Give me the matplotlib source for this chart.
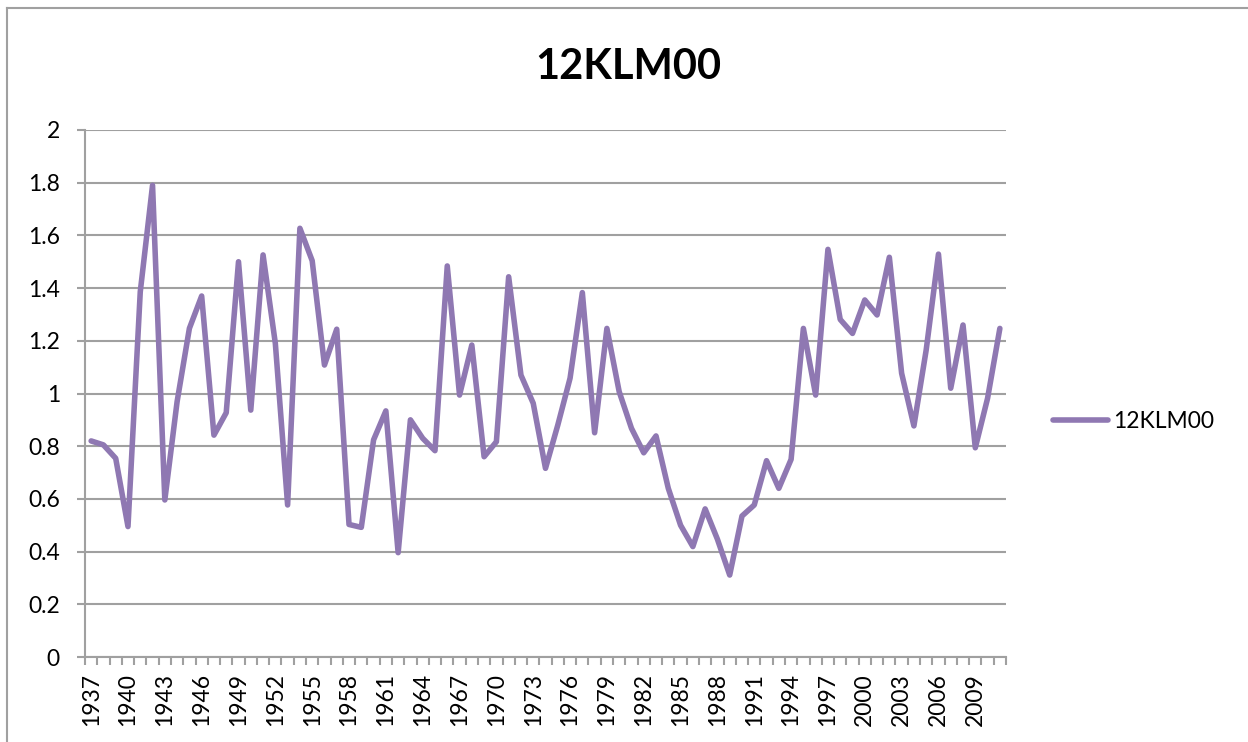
import numpy as np
import matplotlib
matplotlib.use("Agg")
import matplotlib.pyplot as plt
from matplotlib.lines import Line2D

plt.rcParams['font.family'] = ['Lato', 'DejaVu Sans']

years = list(range(1937, 2012))
values = [
    0.82, 0.805, 0.754, 0.495, 1.386, 1.79, 0.596, 0.969, 1.247, 1.37,
    0.842, 0.927, 1.50, 0.937, 1.526, 1.19, 0.577, 1.627, 1.504, 1.108,
    1.244, 0.503, 0.492, 0.824, 0.934, 0.396, 0.90, 0.83, 0.783, 1.484,
    0.994, 1.184, 0.76, 0.817, 1.443, 1.07, 0.963, 0.716, 0.88, 1.058,
    1.383, 0.851, 1.247, 1.007, 0.868, 0.775, 0.839, 0.64, 0.50, 0.419,
    0.562, 0.447, 0.311, 0.535, 0.577, 0.745, 0.64, 0.75, 1.247, 0.994,
    1.547, 1.281, 1.228, 1.355, 1.298, 1.517, 1.077, 0.877, 1.165, 1.529,
    1.02, 1.26, 0.794, 0.982, 1.247,
]
series_name = '12KLM00'
y_ticks = [0, 0.2, 0.4, 0.6, 0.8, 1, 1.2, 1.4, 1.6, 1.8, 2]
y_tick_labels = ['0', '0.2', '0.4', '0.6', '0.8', '1', '1.2', '1.4', '1.6', '1.8', '2']

line_color = '#8F78B2'
grid_color = '#A0A0A0'
label_size = 16.5

fig = plt.figure(figsize=(12.48, 7.42), dpi=100)
ax = fig.add_axes([85 / 1248, 1 - 657 / 742, (1006 - 85) / 1248, (657 - 130) / 742])

x = np.arange(len(years))
ax.plot(x, values, color=line_color, linewidth=4.0, solid_joinstyle='round',
        solid_capstyle='round', label=series_name, zorder=3)

ax.set_xlim(-0.5, len(years) - 0.5)
ax.set_ylim(0, 2)

# y axis
ax.set_yticks(y_ticks)
ax.set_yticklabels(y_tick_labels)
ax.yaxis.grid(True, color=grid_color, linewidth=1.5)
ax.tick_params(axis='y', direction='out', length=6, width=1.5, color=grid_color,
               pad=12, labelsize=label_size)

# x axis: labels every 3 years, marks between categories
label_idx = x[::3]
ax.set_xticks(label_idx)
ax.set_xticklabels([str(years[i]) for i in label_idx], rotation=90)
ax.set_xticks(np.arange(-0.5, len(years)), minor=True)
ax.tick_params(axis='x', which='major', length=0, pad=11.5, labelsize=label_size)
ax.tick_params(axis='x', which='minor', direction='out', length=5.8, width=1.5,
               color=grid_color)

for side in ['top', 'right']:
    ax.spines[side].set_visible(False)
for side in ['left', 'bottom']:
    ax.spines[side].set_color(grid_color)
    ax.spines[side].set_linewidth(1.5)

fig.text(628 / 1248, 1 - 67 / 742, series_name, ha='center', va='center',
         fontsize=30, fontweight='bold')

ax.legend(loc='center left', bbox_to_anchor=(1053 / 1248, 1 - 422 / 742),
          bbox_transform=fig.transFigure, frameon=False, fontsize=label_size,
          handlelength=2.4, handletextpad=0.22, borderpad=0, borderaxespad=0)

# outer chart frame
fig.add_artist(Line2D([7 / 1248, 7 / 1248], [0, 1 - 8 / 742], color=grid_color,
                      linewidth=1.5, transform=fig.transFigure))
fig.add_artist(Line2D([7 / 1248, 1], [1 - 8 / 742, 1 - 8 / 742], color=grid_color,
                      linewidth=1.5, transform=fig.transFigure))

fig.savefig('out.png', dpi=100)
